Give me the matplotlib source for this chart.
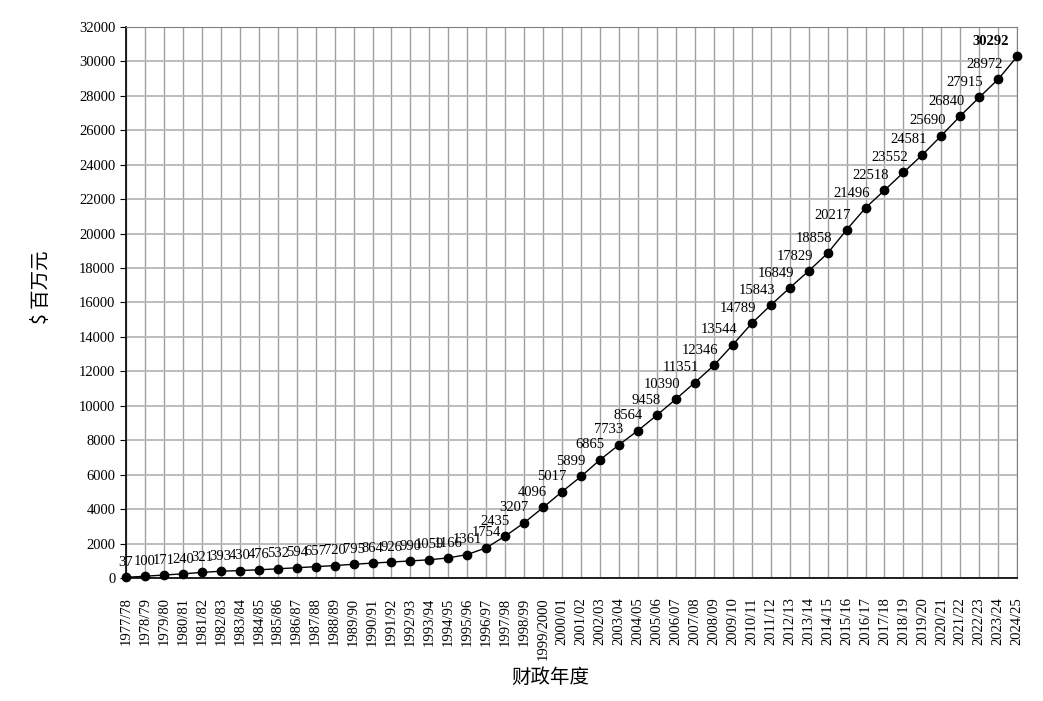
import numpy as np
import matplotlib.pyplot as plt

plt.rcParams['font.family'] = ['Liberation Serif', 'Noto Sans CJK SC']

years = ['1977/78', '1978/79', '1979/80', '1980/81', '1981/82', '1982/83', '1983/84',
         '1984/85', '1985/86', '1986/87', '1987/88', '1988/89', '1989/90', '1990/91',
         '1991/92', '1992/93', '1993/94', '1994/95', '1995/96', '1996/97', '1997/98',
         '1998/99', '1999/2000', '2000/01', '2001/02', '2002/03', '2003/04', '2004/05',
         '2005/06', '2006/07', '2007/08', '2008/09', '2009/10', '2010/11', '2011/12',
         '2012/13', '2013/14', '2014/15', '2015/16', '2016/17', '2017/18', '2018/19',
         '2019/20', '2020/21', '2021/22', '2022/23', '2023/24', '2024/25']
values = [37, 100, 171, 240, 321, 393, 430, 476, 532, 594, 657, 720, 795, 864, 926,
          990, 1059, 1166, 1361, 1754, 2435, 3207, 4096, 5017, 5899, 6865, 7733, 8564,
          9458, 10390, 11351, 12346, 13544, 14789, 15843, 16849, 17829, 18858, 20217,
          21496, 22518, 23552, 24581, 25690, 26840, 27915, 28972, 30292]
yticks = np.arange(0, 32001, 2000)

fig = plt.figure(figsize=(10.43, 7.01), dpi=100)
ax = fig.add_axes([0.1208, 0.1755, 0.8545, 0.786])

x = np.arange(len(years))
ax.plot(x, values, color='black', lw=1, marker='o', ms=6, zorder=3, clip_on=False)

for i, v in enumerate(values):
    last = i == len(values) - 1
    if i < 20:
        ax.annotate(str(v), (i, v), xytext=(0, 6), textcoords='offset points',
                    ha='center', va='bottom', fontsize=10.5)
    else:
        ax.annotate(str(v), (i, v), xytext=(3 if not last else -6, 6),
                    textcoords='offset points', ha='right', va='bottom',
                    fontsize=10.5, fontweight='bold' if last else 'normal')

ax.set_xlim(0, len(years) - 1)
ax.set_ylim(0, 32000)
ax.set_xticks(x)
ax.set_xticklabels(years, rotation=90, fontsize=10.5)
ax.set_yticks(yticks)
ax.set_yticklabels([str(t) for t in yticks], fontsize=10.5)
ax.tick_params(axis='x', length=0, pad=14)
ax.tick_params(axis='y', length=4, direction='out')

ax.xaxis.grid(True, color='#a0a0a0', lw=1)
ax.yaxis.grid(True, color='#b8b8b8', lw=1.3)
ax.set_axisbelow(True)
for s in ['top', 'right']:
    ax.spines[s].set_color('#808080')
for s in ['left', 'bottom']:
    ax.spines[s].set_color('black')
    ax.spines[s].set_linewidth(1.2)

fig.text(0.04, 0.59, '$ 百万元', rotation=90, ha='center', va='center', fontsize=14,
         family=['Noto Sans CJK SC', 'DejaVu Sans'])
fig.text(0.528, 0.033, '财政年度', ha='center', va='center', fontsize=14,
         family=['Noto Sans CJK SC', 'DejaVu Sans'])

fig.savefig('out.png', dpi=100)
